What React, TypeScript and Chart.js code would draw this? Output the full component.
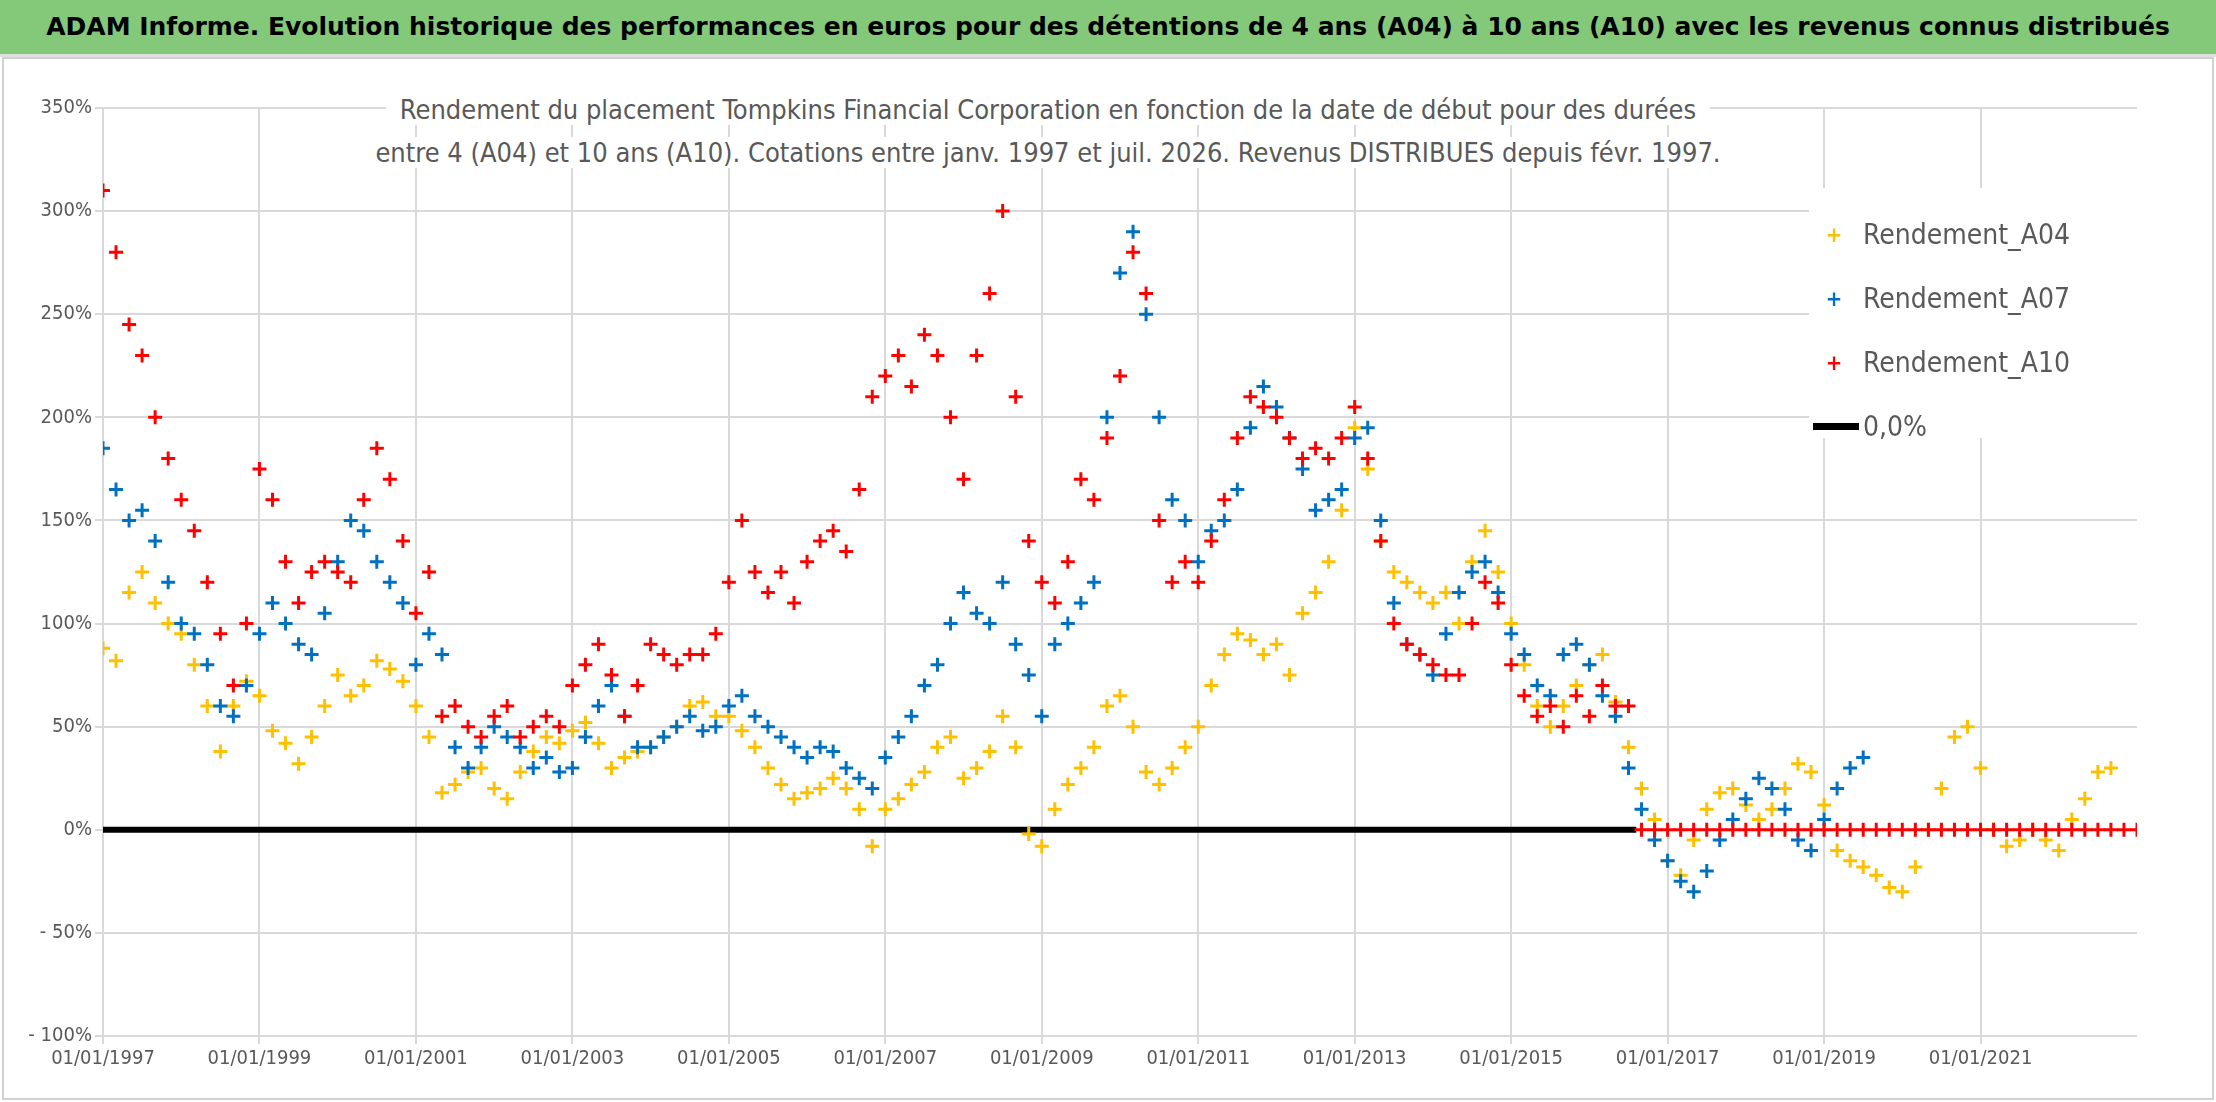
import React, { useEffect, useRef } from 'react';
import { Chart, registerables } from 'chart.js';

Chart.register(...registerables);

// values sampled every two months, starting 01/01/1997
const startYear = 1997;
const stepYears = 1 / 6;

const rendementA04 = [
  88, 82, 115, 125, 110, 100,
  95, 80, 60, 38, 60, 72,
  65, 48, 42, 32, 45, 60,
  75, 65, 70, 82, 78, 72,
  60, 45, 18, 22, 28, 30,
  20, 15, 28, 38, 45, 42,
  48, 52, 42, 30, 35, 38,
  40, 45, 50, 60, 62, 55,
  55, 48, 40, 30, 22, 15,
  18, 20, 25, 20, 10, -8,
  10, 15, 22, 28, 40, 45,
  25, 30, 38, 55, 40, -2,
  -8, 10, 22, 30, 40, 60,
  65, 50, 28, 22, 30, 40,
  50, 70, 85, 95, 92, 85,
  90, 75, 105, 115, 130, 155,
  195, 175, 140, 125, 120, 115,
  110, 115, 100, 130, 145, 125,
  100, 80, 60, 50, 60, 70,
  80, 85, 62, 40, 20, 5,
  -15, -22, -5, 10, 18, 20,
  12, 5, 10, 20, 32, 28,
  12, -10, -15, -18, -22, -28,
  -30, -18, 0, 20, 45, 50,
  30, 0, -8, -5, 0, -5,
  -10, 5, 15, 28, 30,
];

const rendementA07 = [
  185, 165, 150, 155, 140, 120,
  100, 95, 80, 60, 55, 70,
  95, 110, 100, 90, 85, 105,
  130, 150, 145, 130, 120, 110,
  80, 95, 85, 40, 30, 40,
  50, 45, 40, 30, 35, 28,
  30, 45, 60, 70, 55, 40,
  40, 45, 50, 55, 48, 50,
  60, 65, 55, 50, 45, 40,
  35, 40, 38, 30, 25, 20,
  35, 45, 55, 70, 80, 100,
  115, 105, 100, 120, 90, 75,
  55, 90, 100, 110, 120, 200,
  270, 290, 250, 200, 160, 150,
  130, 145, 150, 165, 195, 215,
  205, 190, 175, 155, 160, 165,
  190, 195, 150, 110, 90, 85,
  75, 95, 115, 125, 130, 115,
  95, 85, 70, 65, 85, 90,
  80, 65, 55, 30, 10, -5,
  -15, -25, -30, -20, -5, 5,
  15, 25, 20, 10, -5, -10,
  5, 20, 30, 35,
];

const rendementA10 = [
  310, 280, 245, 230, 200, 180,
  160, 145, 120, 95, 70, 100,
  175, 160, 130, 110, 125, 130,
  125, 120, 160, 185, 170, 140,
  105, 125, 55, 60, 50, 45,
  55, 60, 45, 50, 55, 50,
  70, 80, 90, 75, 55, 70,
  90, 85, 80, 85, 85, 95,
  120, 150, 125, 115, 125, 110,
  130, 140, 145, 135, 165, 210,
  220, 230, 215, 240, 230, 200,
  170, 230, 260, 300, 210, 140,
  120, 110, 130, 170, 160, 190,
  220, 280, 260, 150, 120, 130,
  120, 140, 160, 190, 210, 205,
  200, 190, 180, 185, 180, 190,
  205, 180, 140, 100, 90, 85,
  80, 75, 75, 100, 120, 110,
  80, 65, 55, 60, 50, 65,
  55, 70, 60, 60,
  // not yet known: shown at 0
  0, 0, 0, 0, 0, 0, 0, 0,
  0, 0, 0, 0, 0, 0, 0, 0, 0, 0, 0, 0, 0, 0, 0, 0, 0, 0, 0, 0, 0, 0, 0, 0,
  0, 0, 0, 0, 0, 0, 0, 0,
];

const zeroLine = [
  { x: 1997, y: 0 },
  { x: 2016.6, y: 0 },
];

const yTicks = [-100, -50, 0, 50, 100, 150, 200, 250, 300, 350];

const toPoints = (vals: number[]) =>
  vals.map((v, i) => ({ x: startYear + i * stepYears, y: v }));

const FONT = "'DejaVu Sans Condensed', 'DejaVu Sans', sans-serif";

const legendItems = [
  { label: 'Rendement_A04', color: '#ffc000', kind: 'cross' },
  { label: 'Rendement_A07', color: '#0070c0', kind: 'cross' },
  { label: 'Rendement_A10', color: '#ff0000', kind: 'cross' },
  { label: '0,0%', color: '#000000', kind: 'line' },
];

const App: React.FC = () => {
  const canvasRef = useRef<HTMLCanvasElement>(null);
  const chartRef = useRef<Chart | null>(null);

  useEffect(() => {
    document.body.style.margin = '0';
    if (!canvasRef.current) return;
    const ctx = canvasRef.current.getContext('2d');
    if (!ctx) return;

    const scatter = (label: string, vals: number[], color: string) => ({
      type: 'scatter' as const,
      label,
      data: toPoints(vals),
      pointStyle: 'cross',
      pointRadius: 7,
      borderWidth: 3,
      borderColor: color,
      backgroundColor: color,
      showLine: false,
    });

    chartRef.current = new Chart(ctx, {
      type: 'scatter',
      data: {
        datasets: [
          {
            type: 'line' as const,
            label: '0,0%',
            data: zeroLine,
            borderColor: '#000',
            borderWidth: 6,
            pointRadius: 0,
            order: 10,
          },
          { ...scatter('Rendement_A04', rendementA04, '#ffc000'), order: 3 },
          { ...scatter('Rendement_A07', rendementA07, '#0070c0'), order: 2 },
          { ...scatter('Rendement_A10', rendementA10, '#ff0000'), order: 1 },
        ] as any,
      },
      options: {
        animation: false,
        responsive: true,
        maintainAspectRatio: false,
        layout: { padding: { left: 9, right: 75, top: 49, bottom: 10 } },
        plugins: { legend: { display: false }, tooltip: { enabled: false } },
        scales: {
          x: {
            type: 'linear',
            min: 1997,
            max: 2023,
            afterBuildTicks: (s: any) => {
              const t = [];
              for (let y = 1997; y <= 2021; y += 2) t.push({ value: y });
              s.ticks = t;
            },
            afterFit: (s: any) => { s.height = 52; },
            ticks: {
              callback: (v: any) => '01/01/' + v,
              color: '#595959',
              font: { family: FONT, size: 20 },
              maxRotation: 0,
            },
            grid: { color: '#d9d9d9', lineWidth: 2 },
            border: { display: false },
          },
          y: {
            min: -100,
            max: 350,
            afterBuildTicks: (s: any) => { s.ticks = yTicks.map((v) => ({ value: v })); },
            afterFit: (s: any) => { s.width = 90; },
            ticks: {
              callback: (v: any) => (v < 0 ? '- ' + -v + '%' : v + '%'),
              color: '#595959',
              font: { family: FONT, size: 20 },
            },
            grid: { color: '#d9d9d9', lineWidth: 2 },
            border: { display: false },
          },
        },
      },
    });

    return () => {
      chartRef.current?.destroy();
      chartRef.current = null;
    };
  }, []);

  return (
    <div style={{ width: 2216, height: 1102, position: 'relative', fontFamily: FONT, background: '#fff', overflow: 'hidden' }}>
      <div
        style={{
          height: 57,
          background: '#84c879',
          textAlign: 'center',
          lineHeight: '54px',
          fontFamily: "'DejaVu Sans', sans-serif",
          fontWeight: 'bold',
          fontSize: 25,
          whiteSpace: 'nowrap',
          color: '#000',
          boxSizing: 'border-box',
          borderBottom: '3px solid #e0e0e0',
        }}
      >
        ADAM Informe. Evolution historique des performances en euros pour des détentions de 4 ans (A04) à 10 ans (A10) avec les revenus connus distribués
      </div>
      <div style={{ position: 'absolute', left: 2, right: 2, top: 57, bottom: 2, border: '2px solid #d0d0d0' }}>
        <canvas ref={canvasRef} />
      </div>
      <div
        style={{
          position: 'absolute',
          top: 88,
          left: 0,
          width: 2216,
          textAlign: 'center',
          fontSize: 27,
          lineHeight: '43px',
          color: '#595959',
          pointerEvents: 'none',
        }}
      >
        <div style={{ marginLeft: -120 }}>
          <span style={{ background: '#fff', padding: '0 14px' }}>
            Rendement du placement Tompkins Financial Corporation en fonction de la date de début pour des durées
          </span>
        </div>
        <div style={{ marginLeft: -120 }}>
          <span style={{ background: '#fff', padding: '0 14px' }}>
            entre 4 (A04) et 10 ans (A10). Cotations entre janv. 1997 et juil. 2026. Revenus DISTRIBUES depuis févr. 1997.
          </span>
        </div>
      </div>
      <div
        style={{
          position: 'absolute',
          left: 1809,
          top: 188,
          width: 332,
          height: 250,
          background: '#fff',
          paddingTop: 14,
          boxSizing: 'border-box',
        }}
      >
        {legendItems.map((it) => (
          <div key={it.label} style={{ display: 'flex', alignItems: 'center', height: 64, fontSize: 28, color: '#595959' }}>
            {it.kind === 'cross' ? (
              <span style={{ width: 50, textAlign: 'center', color: it.color, fontSize: 22, fontWeight: 'bold' }}>+</span>
            ) : (
              <span style={{ width: 50, display: 'flex', justifyContent: 'flex-end' }}>
                <span style={{ width: 46, height: 7, background: '#000', display: 'block' }} />
              </span>
            )}
            <span style={{ marginLeft: 4 }}>{it.label}</span>
          </div>
        ))}
      </div>
    </div>
  );
};

export default App;
